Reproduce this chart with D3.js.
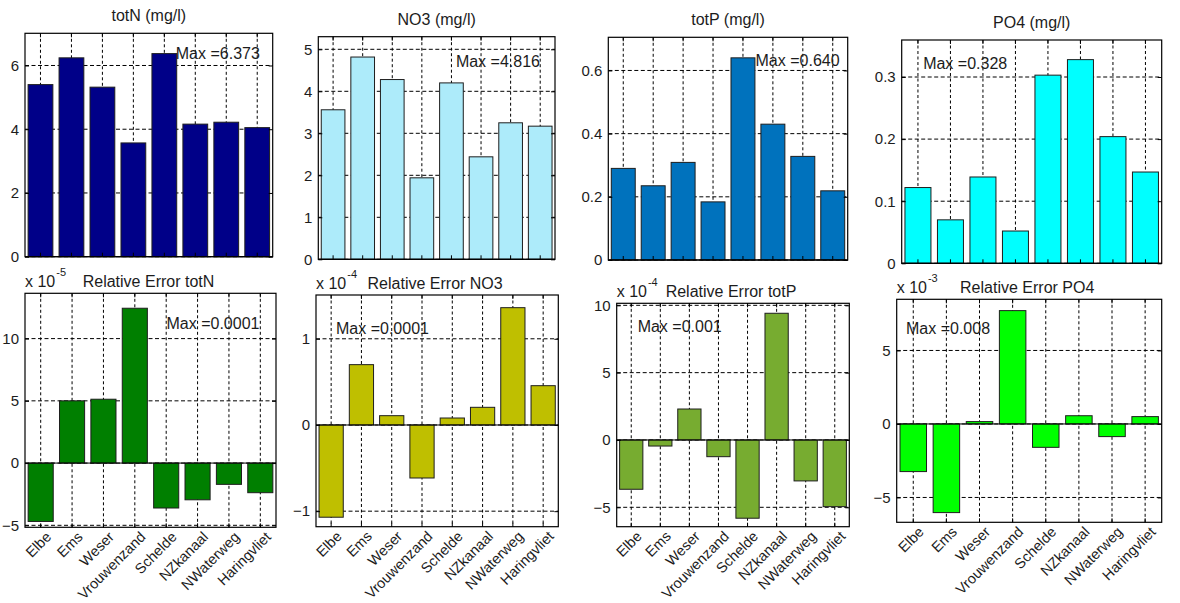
<!DOCTYPE html>
<html>
<head>
<meta charset="utf-8">
<script src="https://cdn.jsdelivr.net/npm/d3@7"></script>
<style>
  body { margin: 0; background: #fff; }
  svg { display: block; }
  text { font-family: "Liberation Sans", Arial, sans-serif; fill: #1c1c1c; }
</style>
</head>
<body>
<svg id="chart" width="1180" height="603"></svg>
<script>
// Monitoring stations along the x axis
const stations = ["Elbe", "Ems", "Weser", "Vrouwenzand", "Schelde", "NZkanaal", "NWaterweg", "Haringvliet"];

// Concentrations (mg/l)
const totN = [5.40, 6.24, 5.32, 3.57, 6.373, 4.16, 4.22, 4.05];
const no3  = [3.56, 4.816, 4.28, 1.94, 4.20, 2.44, 3.25, 3.17];
const totP = [0.290, 0.235, 0.309, 0.184, 0.640, 0.430, 0.328, 0.219];
const po4  = [0.122, 0.070, 0.139, 0.052, 0.303, 0.328, 0.204, 0.147];

// Relative errors (dimensionless)
const relErrTotN = [-4.69e-5, 5.00e-5, 5.13e-5, 12.44e-5, -3.61e-5, -2.95e-5, -1.71e-5, -2.38e-5];
const relErrNO3  = [-1.07e-4, 0.70e-4, 0.108e-4, -0.615e-4, 0.081e-4, 0.205e-4, 1.361e-4, 0.456e-4];
const relErrTotP = [-3.66e-4, -0.45e-4, 2.30e-4, -1.24e-4, -5.81e-4, 9.41e-4, -3.04e-4, -4.95e-4];
const relErrPO4  = [-3.24e-3, -6.03e-3, 0.16e-3, 7.71e-3, -1.59e-3, 0.56e-3, -0.86e-3, 0.50e-3];

// Y tick values per panel
const ticksTotN = [0, 2, 4, 6];
const ticksNO3  = [0, 1, 2, 3, 4, 5];
const ticksTotP = [0, 0.2, 0.4, 0.6];
const ticksPO4  = [0, 0.1, 0.2, 0.3];
const ticksErrTotN = [-5e-5, 0, 5e-5, 10e-5];
const ticksErrNO3  = [-1e-4, 0, 1e-4];
const ticksErrTotP = [-5e-4, 0, 5e-4, 10e-4];
const ticksErrPO4  = [-5e-3, 0, 5e-3];

// Panel layout: axes box [left, top, right, bottom], y limits, colour,
// exponent shown above the axis, and where the "Max" note sits (category index, y value)
const panels = [
  { title: "totN (mg/l)", values: totN, ticks: ticksTotN, color: "#000088",
    box: [25, 33.3, 272.7, 256.7], ylim: [0, 7.01], digits: 3, note: [5.37, 6.375] },
  { title: "NO3 (mg/l)", values: no3, ticks: ticksNO3, color: "#ADEBFA",
    box: [318.3, 36.7, 555, 259.3], ylim: [0, 5.30], digits: 3, note: [5.15, 4.70] },
  { title: "totP (mg/l)", values: totP, ticks: ticksTotP, color: "#0072BD",
    box: [608.3, 37.3, 847.7, 260], ylim: [0, 0.705], digits: 3, note: [5.42, 0.633] },
  { title: "PO4 (mg/l)", values: po4, ticks: ticksPO4, color: "#00FFFF",
    box: [901.7, 40, 1161.7, 263.3], ylim: [0, 0.3596], digits: 3, note: [1.16, 0.322] },
  { title: "Relative Error totN", values: relErrTotN, ticks: ticksErrTotN, color: "#007F00",
    box: [25, 293.3, 276, 527.3], ylim: [-5.16e-5, 13.64e-5], exp: -5, digits: 4, note: [5.01, 11.2e-5], labels: true },
  { title: "Relative Error NO3", values: relErrNO3, ticks: ticksErrNO3, color: "#BFBF00",
    box: [316, 295, 558.3, 526.7], ylim: [-1.18e-4, 1.508e-4], exp: -4, digits: 4, note: [1.16, 1.12e-4], labels: true },
  { title: "Relative Error totP", values: relErrTotP, ticks: ticksErrTotP, color: "#77AC30",
    box: [616.7, 303.3, 849.3, 526.7], ylim: [-6.44e-4, 10.15e-4], exp: -4, digits: 3, note: [1.22, 8.41e-4], labels: true },
  { title: "Relative Error PO4", values: relErrPO4, ticks: ticksErrPO4, color: "#00FF00",
    box: [896.7, 299.3, 1161.7, 522.3], ylim: [-6.69e-3, 8.48e-3], exp: -3, digits: 3, note: [0.78, 6.51e-3], labels: true }
];

const svg = d3.select("#chart");
const FONT = 16;       // titles and notes
const TICK_FONT = 15;  // y tick labels
const CAT_FONT = 14.5; // rotated station names

panels.forEach(p => {
  const [L, T, R, B] = p.box;
  const g = svg.append("g");

  const x = d3.scaleBand().domain(stations).range([L, R]).paddingInner(0.2).paddingOuter(0.1);
  const xi = d3.scaleLinear().domain([0.5, stations.length + 0.5]).range([L, R]);
  const y = d3.scaleLinear().domain(p.ylim).range([B, T]);
  const fmtTick = p.exp !== undefined
    ? (v => d3.format("d")(Math.round(v / Math.pow(10, p.exp))))
    : d3.format("~g");

  // dotted grid
  const grid = g.append("g").attr("stroke", "#000").attr("stroke-width", 1).attr("fill", "none");
  grid.selectAll("line.v").data(stations).join("line")
    .attr("x1", d => x(d) + x.bandwidth() / 2).attr("x2", d => x(d) + x.bandwidth() / 2)
    .attr("y1", T).attr("y2", B)
    .attr("stroke-dasharray", "3,2.5");
  grid.selectAll("line.h").data(p.ticks).join("line")
    .attr("x1", L).attr("x2", R)
    .attr("y1", d => y(d)).attr("y2", d => y(d))
    .attr("stroke-dasharray", "4,2.5");

  // bars from zero
  g.append("g").selectAll("rect").data(p.values).join("rect")
    .attr("x", (d, i) => x(stations[i]))
    .attr("width", x.bandwidth())
    .attr("y", d => y(Math.max(0, d)))
    .attr("height", d => Math.abs(y(d) - y(0)))
    .attr("fill", p.color)
    .attr("stroke", "#1e1e1e")
    .attr("stroke-width", 1);

  // zero baseline
  g.append("line").attr("x1", L).attr("x2", R).attr("y1", y(0)).attr("y2", y(0))
    .attr("stroke", "#000").attr("stroke-width", 1);

  // axes: inward ticks on all four sides
  const yl = g.append("g").attr("transform", `translate(${L},0)`)
    .call(d3.axisLeft(y).tickValues(p.ticks).tickSizeInner(-4).tickSizeOuter(0).tickPadding(6).tickFormat(fmtTick));
  yl.select(".domain").remove();
  yl.selectAll("text").attr("font-size", TICK_FONT).attr("fill", "#1c1c1c").attr("font-family", null);
  yl.selectAll("line").attr("stroke", "#000");

  const yr = g.append("g").attr("transform", `translate(${R},0)`)
    .call(d3.axisRight(y).tickValues(p.ticks).tickSizeInner(-4).tickSizeOuter(0).tickFormat(""));
  yr.select(".domain").remove();

  const xb = g.append("g").attr("transform", `translate(0,${B})`)
    .call(d3.axisBottom(x).tickSizeInner(-4).tickSizeOuter(0).tickFormat(""));
  xb.select(".domain").remove();
  const xt = g.append("g").attr("transform", `translate(0,${T})`)
    .call(d3.axisTop(x).tickSizeInner(-4).tickSizeOuter(0).tickFormat(""));
  xt.select(".domain").remove();

  // axes box
  g.append("rect").attr("x", L).attr("y", T).attr("width", R - L).attr("height", B - T)
    .attr("fill", "none").attr("stroke", "#000").attr("stroke-width", 1.2);

  // rotated station labels
  if (p.labels) {
    g.append("g").selectAll("text").data(stations).join("text")
      .attr("font-size", CAT_FONT)
      .attr("text-anchor", "end")
      .attr("dominant-baseline", "central")
      .attr("transform", d => `translate(${x(d) + x.bandwidth() / 2 + 8},${B + 7}) rotate(-45)`)
      .text(d => d);
  }

  // title and exponent
  const cx = (L + R) / 2 - 2;
  if (p.exp !== undefined) {
    g.append("text").attr("x", cx).attr("y", T - 6.5).attr("text-anchor", "middle")
      .attr("font-size", FONT).text(p.title);
    const ex = g.append("text").attr("x", L).attr("y", T - 6.5).attr("font-size", FONT);
    ex.append("tspan").text("x 10");
    ex.append("tspan").attr("dx", 1).attr("dy", -11).attr("font-size", 11).text(String(p.exp));
  } else {
    g.append("text").attr("x", cx + 2).attr("y", T - 12).attr("text-anchor", "middle")
      .attr("font-size", FONT).text(p.title);
  }

  // maximum note
  const maxVal = d3.max(p.values);
  g.append("text")
    .attr("x", xi(p.note[0])).attr("y", y(p.note[1]))
    .attr("dominant-baseline", "central")
    .attr("font-size", FONT)
    .text("Max =" + maxVal.toFixed(p.digits));
});
</script>
</body>
</html>
